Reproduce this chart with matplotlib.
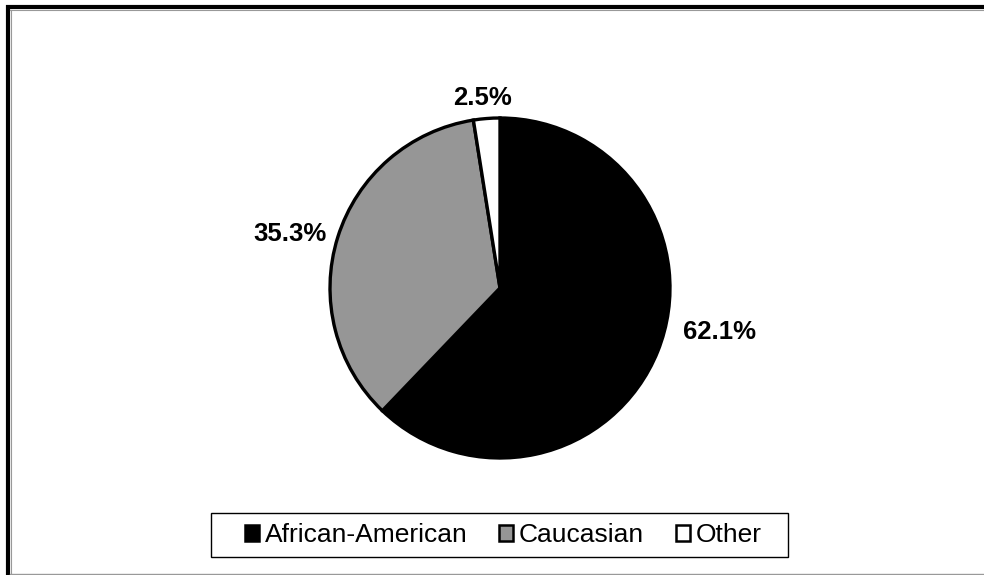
import numpy as np
import matplotlib
matplotlib.use('Agg')
import matplotlib.pyplot as plt
from matplotlib.lines import Line2D
from matplotlib.patches import Patch, Rectangle

# 数据
categories = ['African-American', 'Caucasian', 'Other']
shares = [62.1, 35.3, 2.5]
pct_labels = ['62.1%', '35.3%', '2.5%']
colors = ['#000000', '#969696', '#ffffff']
# 标签相对扇区外缘中点的偏移（像素，Excel 的“最佳匹配”位置）
label_offsets = [(62, 19), (-48, 3), (-4, 21)]

plt.rcParams['font.family'] = ['Liberation Sans', 'DejaVu Sans']

W, H = 984, 575
fig = plt.figure(figsize=(W / 100, H / 100), dpi=100)

# 饼图区域（圆心约 500,288，半径约 170 像素）
cx, cy, r = 500, 288, 170
ax = fig.add_axes([(cx - r) / W, (H - cy - r) / H, 2 * r / W, 2 * r / H])
wedges, _ = ax.pie(shares, colors=colors, startangle=90, counterclock=False,
                   radius=1.0,
                   wedgeprops=dict(edgecolor='black', linewidth=2.4))
ax.set_xlim(-1, 1)
ax.set_ylim(-1, 1)
ax.set_aspect('equal')
ax.axis('off')

for w, lab, off in zip(wedges, pct_labels, label_offsets):
    ang = np.deg2rad((w.theta1 + w.theta2) / 2)
    ax.annotate(lab, xy=(np.cos(ang), np.sin(ang)), xytext=(off[0] * 0.72, off[1] * 0.72),
                textcoords='offset points', ha='center', va='center',
                fontsize=18.5, fontweight='bold', annotation_clip=False)

# 图例（边框单独画，Excel 的左右留白更宽）
handles = [Patch(facecolor=c, edgecolor='black', linewidth=1.8) for c in colors]
leg = fig.legend(handles, categories, loc='center', ncol=3,
                 bbox_to_anchor=(503 / W, 1 - 535 / H), fontsize=19,
                 frameon=False,
                 handlelength=0.55, handleheight=0.55, handletextpad=0.2,
                 columnspacing=1.2, borderpad=0.3, borderaxespad=0)
fig.add_artist(Rectangle((211 / W, 1 - 557 / H), 577 / W, 44 / H, fill=False,
                         edgecolor='black', linewidth=1.0, transform=fig.transFigure))

# 外框
fig.add_artist(Line2D([6 / W, 1], [1 - 7 / H, 1 - 7 / H], color='black', lw=3.0,
                      transform=fig.transFigure, solid_capstyle='butt'))
fig.add_artist(Line2D([8 / W, 8 / W], [0, 1 - 5 / H], color='black', lw=3.0,
                      transform=fig.transFigure, solid_capstyle='butt'))
fig.add_artist(Line2D([10 / W, 1], [1 - 9.8 / H, 1 - 9.8 / H], color='#999999', lw=0.8,
                      transform=fig.transFigure))
fig.add_artist(Line2D([10.6 / W, 10.6 / W], [0, 1 - 9.8 / H], color='#999999', lw=0.8,
                      transform=fig.transFigure))
fig.add_artist(Line2D([10 / W, 1], [1 - 573.5 / H, 1 - 573.5 / H], color='#999999', lw=1.0,
                      transform=fig.transFigure))

fig.savefig('out.png', dpi=100, facecolor='white')
